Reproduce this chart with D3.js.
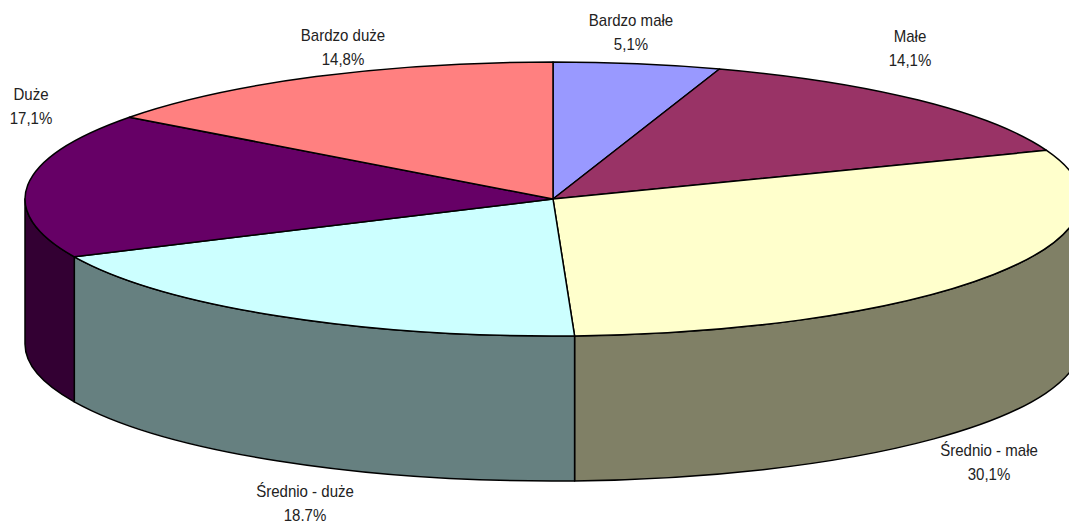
<!DOCTYPE html>
<html>
<head>
<meta charset="utf-8">
<script src="https://cdn.jsdelivr.net/npm/d3@7"></script>
<style>
    html, body { margin: 0; padding: 0; background: #fff; overflow: hidden; }
    svg { display: block; }
    text { font-family: "Liberation Sans", Arial, sans-serif; font-size: 16px; fill: #222; }
</style>
</head>
<body>
<svg id="chart" width="1069" height="522"></svg>
<script>
const categories = ['Bardzo małe', 'Małe', 'Średnio - małe', 'Średnio - duże', 'Duże', 'Bardzo duże']
const values = [5.1, 14.1, 30.1, 18.7, 17.1, 14.8]
const valueLabels = ['5,1%', '14,1%', '30,1%', '18.7%', '17,1%', '14,8%']
const topColors = ['#9999ff', '#993366', '#ffffcc', '#ccffff', '#660066', '#ff8080']
const sideColors = ['#4d4d80', '#4d1a33', '#808066', '#668080', '#330033', '#804040']

// label centres, in pixels
const labelX = [631, 910, 989, 305, 31, 343]
const labelY = [20, 36, 450, 491, 94, 35]

const cx = 553, cy = 199, rx = 528, ry = 137, depth = 145
const svg = d3.select('#chart')

const arcs = d3.pie().sort(null).value(d => d)(values)

const pt = (a, dy = 0) => [cx + rx * Math.sin(a), cy - ry * Math.cos(a) + dy]

function topPath(d) {
    const p0 = pt(d.startAngle), p1 = pt(d.endAngle)
    const large = d.endAngle - d.startAngle > Math.PI ? 1 : 0
    return `M${cx},${cy}L${p0}A${rx},${ry} 0 ${large} 1 ${p1}Z`
}

// only the front half of the rim shows
function sidePath(d) {
    const a0 = Math.max(d.startAngle, Math.PI / 2)
    const a1 = Math.min(d.endAngle, Math.PI * 1.5)
    if (a0 >= a1) return null
    return `M${pt(a0)}A${rx},${ry} 0 0 1 ${pt(a1)}L${pt(a1, depth)}A${rx},${ry} 0 0 0 ${pt(a0, depth)}Z`
}

svg.append('g')
    .selectAll('path')
    .data(arcs.filter(d => sidePath(d)))
    .enter().append('path')
    .attr('d', sidePath)
    .attr('fill', d => sideColors[d.index])
    .attr('stroke', '#000')
    .attr('stroke-width', 1.5)
    .attr('stroke-linejoin', 'round')

svg.append('g')
    .selectAll('path')
    .data(arcs)
    .enter().append('path')
    .attr('d', topPath)
    .attr('fill', d => topColors[d.index])
    .attr('stroke', '#000')
    .attr('stroke-width', 1.5)
    .attr('stroke-linejoin', 'round')

// the reference type is a narrow Arial, so squeeze it a little
const label = svg.append('g')
    .selectAll('text')
    .data(categories)
    .enter().append('text')
    .attr('text-anchor', 'middle')
    .attr('transform', (d, i) => `translate(${labelX[i]},${labelY[i] + 6}) scale(0.94,1)`)

label.append('tspan').text(d => d)
label.append('tspan')
    .attr('x', 0)
    .attr('dy', 24)
    .text((d, i) => valueLabels[i])
</script>
</body>
</html>
